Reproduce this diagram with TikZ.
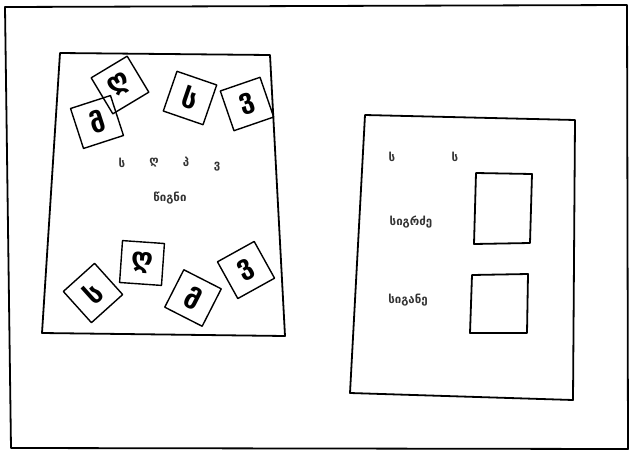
\documentclass[tikz,border=0pt]{standalone}
\usepackage{fontspec}
\newfontfamily\geo{DejaVu Sans}
\begin{document}
\begin{tikzpicture}[x=1pt,y=-1pt, line join=round, line cap=round,
	tile/.style={draw, line width=1.4pt, minimum size=42pt, inner sep=0pt, font=\geo\bfseries\fontsize{27}{27}\selectfont},
	lbl/.style={font=\geo\bfseries\fontsize{11.5}{11.5}\selectfont, inner sep=1pt, text=black!80}]
	\useasboundingbox (0,0) rectangle (629,453);
	% khung ngoai
	\draw[line width=1.8pt] (5,7)--(627,5)--(628,449)--(11,448)--cycle;
	% tam trai
	\draw[line width=1.8pt] (60,53)--(270,55)--(285,336)--(42,333)--cycle;
	\foreach \x/\y/\r/\l [count=\i] in {120/85/31/ღ, 97/122/18/მ, 190/98/-19/ს, 247/104/19/ვ,
		93/293/42/ს, 142/263/-4/ღ, 193/298/-27/მ, 246/270/29/ვ}
		\node[tile, rotate=\r] (t\i) at (\x,\y) {\l};
	\foreach \x/\y/\l [count=\i] in {122/163/ს, 154/163/ღ, 186/162/პ, 217/167/ვ}
		\node[lbl] (s\i) at (\x,\y) {\l};
	\node[lbl] (w) at (170,198) {წიგნი};
	% tam phai
	\draw[line width=1.8pt] (365,115)--(575,120)--(573,400)--(350,393)--cycle;
	\node[lbl] (r1) at (392,157) {ს};
	\node[lbl] (r2) at (455,157) {ს};
	\draw[line width=1.8pt] (476,173)--(532,174)--(530,243)--(474,244)--cycle;
	\draw[line width=1.8pt] (472,275)--(528,274)--(527,333)--(470,333)--cycle;
	\node[lbl] (a) at (411,222) {სიგრძე};
	\node[lbl] (b) at (408,300) {სიგანე};
\end{tikzpicture}
\end{document}
